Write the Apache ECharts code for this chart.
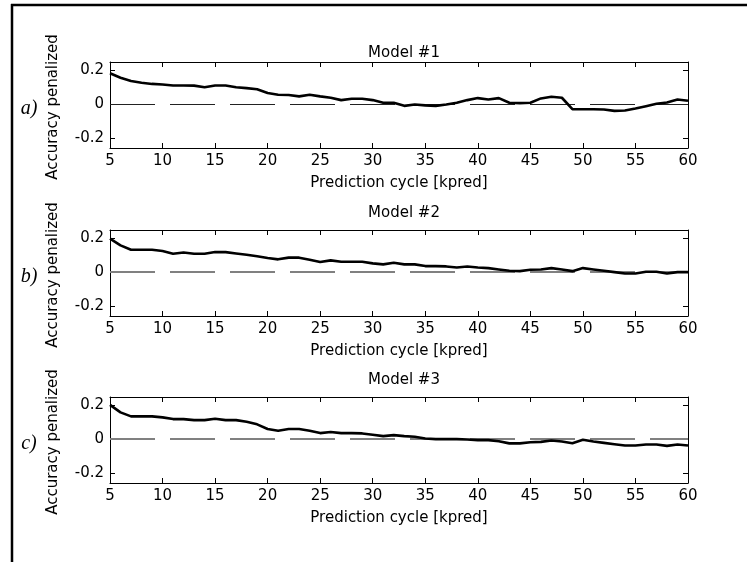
<!DOCTYPE html>
<html>
<head>
<meta charset="utf-8">
<script src="https://cdn.jsdelivr.net/npm/echarts@6/dist/echarts.min.js"></script>
<style>
html,body{margin:0;padding:0;background:#fff;}
#chart{width:753px;height:562px;}
</style>
</head>
<body>
<div id="chart"></div>
<script>
// ---- data ----
const kpred = [5,6,7,8,9,10,11,12,13,14,15,16,17,18,19,20,21,22,23,24,25,26,27,28,29,30,31,32,33,34,35,36,37,38,39,40,41,42,43,44,45,46,47,48,49,50,51,52,53,54,55,56,57,58,59,60];
const model1 = [0.183,0.157,0.137,0.127,0.120,0.117,0.111,0.111,0.110,0.100,0.111,0.111,0.100,0.095,0.088,0.066,0.056,0.054,0.046,0.056,0.046,0.038,0.024,0.032,0.032,0.024,0.008,0.008,-0.010,-0.002,-0.007,-0.010,-0.002,0.008,0.024,0.036,0.028,0.036,0.008,0.006,0.008,0.034,0.044,0.038,-0.030,-0.030,-0.030,-0.032,-0.040,-0.038,-0.026,-0.012,0.002,0.010,0.028,0.020];
const model2 = [0.199,0.159,0.133,0.133,0.133,0.125,0.109,0.117,0.109,0.109,0.119,0.119,0.111,0.103,0.094,0.084,0.076,0.086,0.086,0.074,0.060,0.070,0.062,0.062,0.062,0.052,0.046,0.056,0.046,0.046,0.036,0.036,0.034,0.028,0.034,0.028,0.024,0.016,0.008,0.006,0.014,0.016,0.024,0.016,0.006,0.024,0.016,0.008,0.000,-0.008,-0.008,0.002,0.002,-0.008,0.000,0.000];
const model3 = [0.203,0.159,0.135,0.135,0.135,0.129,0.119,0.119,0.113,0.113,0.121,0.113,0.113,0.103,0.088,0.060,0.050,0.060,0.060,0.050,0.036,0.042,0.036,0.036,0.034,0.026,0.018,0.024,0.018,0.014,0.004,0.000,0.000,0.000,-0.002,-0.006,-0.006,-0.012,-0.025,-0.025,-0.018,-0.016,-0.008,-0.014,-0.024,-0.004,-0.014,-0.022,-0.030,-0.038,-0.038,-0.032,-0.032,-0.040,-0.032,-0.038];
const titles = ['Model #1','Model #2','Model #3'];
const panelTags = ['a)','b)','c)'];
const xTicks = {min:5, max:60, interval:5};
const yTickValues = [-0.2, 0, 0.2];
const xName = 'Prediction cycle [kpred]';
const yName = 'Accuracy penalized';

// ---- layout ----
const FONT = 'DejaVu Sans';
const gridTops = [62, 230, 397];
const gridH = 86, gridL = 110, gridR = 65;
const titleCenters = [50, 210, 377];
const zeroStyles = [
  {color:'#222', width:1},
  {color:'#808080', width:2},
  {color:'#808080', width:2}
];
const seriesData = [model1, model2, model3];

const grids = [], xAxes = [], yAxes = [], series = [], titleArr = [], graphics = [];
const axisLine = {show:true, onZero:false, lineStyle:{color:'#000', width:1}};
for (let i = 0; i < 3; i++) {
  grids.push({left:gridL, right:gridR, top:gridTops[i], height:gridH, containLabel:false});
  // bottom x
  xAxes.push({type:'value', gridIndex:i, position:'bottom', min:xTicks.min, max:xTicks.max, interval:xTicks.interval,
    axisLine:axisLine, axisTick:{show:true, inside:true, length:5, lineStyle:{color:'#000'}},
    axisLabel:{show:true, margin:6, color:'#000', fontFamily:FONT, fontSize:15},
    splitLine:{show:false},
    name:xName, nameLocation:'middle', nameGap:28, nameTextStyle:{color:'#000', fontFamily:FONT, fontSize:15}});
  // top x
  xAxes.push({type:'value', gridIndex:i, position:'top', min:xTicks.min, max:xTicks.max, interval:xTicks.interval,
    axisLine:axisLine, axisTick:{show:true, inside:true, length:5, lineStyle:{color:'#000'}},
    axisLabel:{show:false}, splitLine:{show:false}});
  // left y
  yAxes.push({type:'value', gridIndex:i, position:'left', min:-0.26, max:0.25,
    axisLine:axisLine,
    axisTick:{show:true, inside:true, length:5, customValues:yTickValues, lineStyle:{color:'#000'}},
    axisLabel:{show:true, margin:6, customValues:yTickValues, color:'#000', fontFamily:FONT, fontSize:15,
      formatter:function(v){ return v === 0 ? '0' : String(Math.round(v*10)/10); }},
    splitLine:{show:false}});
  // right y
  yAxes.push({type:'value', gridIndex:i, position:'right', min:-0.26, max:0.25,
    axisLine:axisLine,
    axisTick:{show:true, inside:true, length:5, customValues:yTickValues, lineStyle:{color:'#000'}},
    axisLabel:{show:false}, splitLine:{show:false}});

  series.push({type:'line', xAxisIndex:2*i, yAxisIndex:2*i, symbol:'none', smooth:false, silent:true,
    z:3,
    lineStyle:{color:'#000', width:2.6},
    data:kpred.map((k, j) => [k, seriesData[i][j]]),
    markLine:{silent:true, symbol:'none', z:1, label:{show:false},
      lineStyle:{type:[45,15], color:zeroStyles[i].color, width:zeroStyles[i].width},
      data:[{yAxis:0}]}});

  titleArr.push({text:titles[i], left:399, textAlign:'center', top:titleCenters[i]-9,
    textStyle:{color:'#000', fontFamily:FONT, fontSize:15, fontWeight:'normal'}});

  const mid = gridTops[i] + gridH/2;
  graphics.push({type:'text', x:53, y:mid + 2, rotation:Math.PI/2,
    style:{text:yName, fill:'#000', font:'15px "' + FONT + '"', textAlign:'center', textVerticalAlign:'middle'}});
  graphics.push({type:'text', x:29, y:mid + 4,
    style:{text:panelTags[i], fill:'#000', font:'italic 20px "Liberation Serif"', textAlign:'center', textVerticalAlign:'middle'}});
}
// frame
graphics.push({type:'line', shape:{x1:11, y1:5, x2:747, y2:5}, style:{stroke:'#000', lineWidth:2.5}});
graphics.push({type:'line', shape:{x1:12, y1:4, x2:12, y2:562}, style:{stroke:'#000', lineWidth:2.5}});

const chart = echarts.init(document.getElementById('chart'), null, {renderer:'canvas'});
chart.setOption({
  animation:false,
  backgroundColor:'#fff',
  title:titleArr,
  grid:grids,
  xAxis:xAxes,
  yAxis:yAxes,
  series:series,
  graphic:graphics
});
</script>
</body>
</html>
